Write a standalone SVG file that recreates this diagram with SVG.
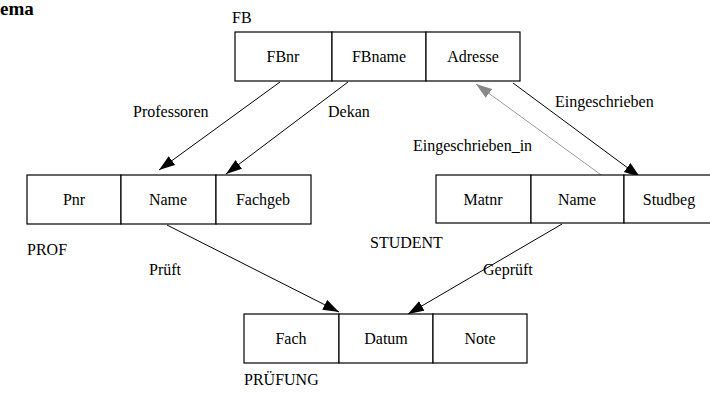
<svg xmlns="http://www.w3.org/2000/svg" width="710" height="394" viewBox="0 0 710 394">
<defs>
<marker id="ah" markerUnits="userSpaceOnUse" markerWidth="18" markerHeight="12" refX="16" refY="5.5" orient="auto"><path d="M0,0 L16,5.5 L0,11 z" fill="#000"/></marker>
<marker id="ahg" markerUnits="userSpaceOnUse" markerWidth="18" markerHeight="12" refX="16" refY="5.5" orient="auto"><path d="M0,0 L16,5.5 L0,11 z" fill="#888"/></marker>
<style>
text{font-family:"Liberation Serif","Times New Roman",serif;font-size:16px;fill:#000}
.c{text-anchor:middle}
.cell{fill:#fff;stroke:#000;stroke-width:1.2}
.l{stroke:#000;stroke-width:1;fill:none}
.g{stroke:#999;stroke-width:1;fill:none}
</style>
</defs>
<rect width="710" height="394" fill="#fff"/>
<text x="0" y="15" style="font-weight:bold;font-size:19px">ema</text>
<g id="connectors">
<line class="l" x1="280" y1="82" x2="159" y2="170" marker-end="url(#ah)"/>
<line class="l" x1="348" y1="82" x2="226" y2="174" marker-end="url(#ah)"/>
<line class="l" x1="513" y1="83" x2="640" y2="177" marker-end="url(#ah)"/>
<line class="g" x1="604" y1="177" x2="476" y2="84" marker-end="url(#ahg)"/>
<line class="l" x1="167" y1="225" x2="339" y2="312" marker-end="url(#ah)"/>
<line class="l" x1="562" y1="224" x2="408" y2="314" marker-end="url(#ah)"/>
<text x="133" y="117">Professoren</text>
<text x="328" y="117">Dekan</text>
<text x="555" y="107">Eingeschrieben</text>
<text x="413" y="151">Eingeschrieben_in</text>
<text x="149" y="275">Prüft</text>
<text x="483" y="275">Geprüft</text>
</g>
<g id="FB">
<text x="232" y="23">FB</text>
<rect class="cell" x="235" y="32" width="97" height="49"/>
<rect class="cell" x="332" y="32" width="94" height="49"/>
<rect class="cell" x="426" y="32" width="94" height="49"/>
<text class="c" x="283" y="62">FBnr</text>
<text class="c" x="379" y="62">FBname</text>
<text class="c" x="473" y="62">Adresse</text>
</g>
<g id="PROF">
<text x="27" y="255">PROF</text>
<rect class="cell" x="27" y="175" width="94" height="49"/>
<rect class="cell" x="121" y="175" width="95" height="49"/>
<rect class="cell" x="216" y="175" width="95" height="49"/>
<text class="c" x="74" y="205">Pnr</text>
<text class="c" x="168" y="205">Name</text>
<text class="c" x="263" y="205">Fachgeb</text>
</g>
<g id="STUDENT">
<text x="370" y="248">STUDENT</text>
<rect class="cell" x="436" y="175" width="95" height="48"/>
<rect class="cell" x="531" y="175" width="93" height="48"/>
<rect class="cell" x="624" y="175" width="94" height="48"/>
<text class="c" x="483" y="205">Matnr</text>
<text class="c" x="577" y="205">Name</text>
<text class="c" x="669" y="205">Studbeg</text>
</g>
<g id="PRUEFUNG">
<text x="244" y="385">PRÜFUNG</text>
<rect class="cell" x="244" y="314" width="95" height="49"/>
<rect class="cell" x="339" y="314" width="94" height="49"/>
<rect class="cell" x="433" y="314" width="94" height="49"/>
<text class="c" x="291" y="344">Fach</text>
<text class="c" x="386" y="344">Datum</text>
<text class="c" x="480" y="344">Note</text>
</g>
</svg>
